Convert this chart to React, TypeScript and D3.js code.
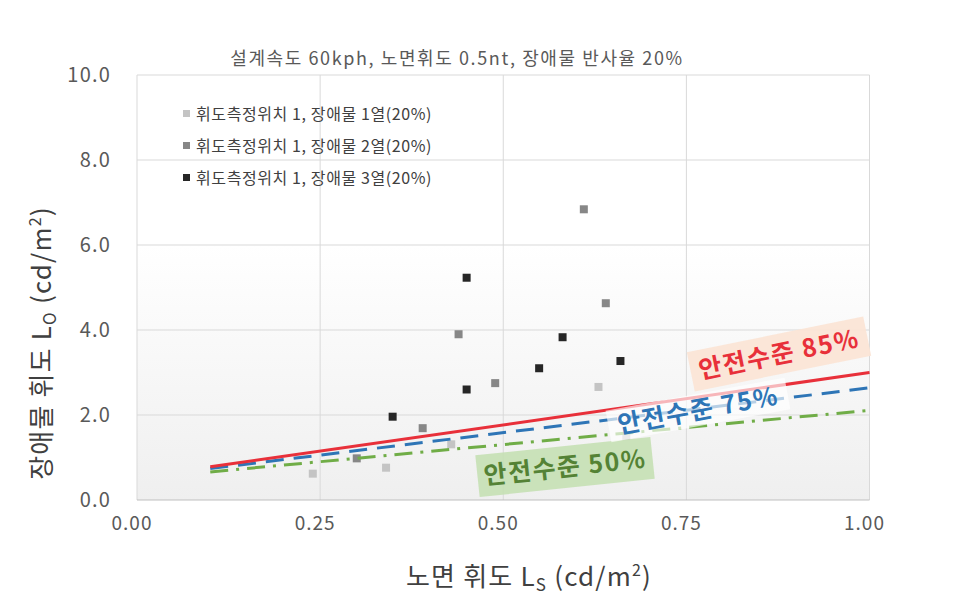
import React from "react";
import * as d3 from "d3";

const title = "설계속도 60kph, 노면휘도 0.5nt, 장애물 반사율 20%";
const xTicks = [0, 0.25, 0.5, 0.75, 1.0];
const yTicks = [0, 2, 4, 6, 8, 10];

const seriesNames = [
  "휘도측정위치 1, 장애물 1열(20%)",
  "휘도측정위치 1, 장애물 2열(20%)",
  "휘도측정위치 1, 장애물 3열(20%)",
];
const seriesColors = ["#c4c4c4", "#878787", "#262626"];

const s1x = [0.24, 0.34, 0.429, 0.63, 0.668];
const s1y = [0.62, 0.76, 1.31, 2.66, 1.5];
const s2x = [0.3, 0.39, 0.439, 0.489, 0.61, 0.64];
const s2y = [0.98, 1.69, 3.9, 2.75, 6.84, 4.63];
const s3x = [0.349, 0.45, 0.45, 0.549, 0.581, 0.66];
const s3y = [1.96, 5.23, 2.6, 3.1, 3.83, 3.27];

const lineX = [0.1, 1.0];
const line85 = [0.78, 3.0];
const line75 = [0.74, 2.64];
const line50 = [0.66, 2.11];

const FONT = "'Noto Sans CJK KR', 'Noto Sans', sans-serif";

export default function App() {
  const W = 972, H = 611;
  const x = d3.scaleLinear().domain([0, 1]).range([137, 869.5]);
  const y = d3.scaleLinear().domain([0, 10]).range([500, 75]);

  const series = [
    { xs: s1x, ys: s1y, color: seriesColors[0] },
    { xs: s2x, ys: s2y, color: seriesColors[1] },
    { xs: s3x, ys: s3y, color: seriesColors[2] },
  ];

  const lineGen = d3
    .line<[number, number]>()
    .x((d) => x(d[0]))
    .y((d) => y(d[1]));
  const mk = (vals: number[]) => lineGen(lineX.map((v, i) => [v, vals[i]] as [number, number])) || "";

  const ms = 8;

  const Label = ({
    cx, cy, angle, text, color, bg, bgOpacity, w, h, fs, ls,
  }: any) => (
    <g transform={`translate(${cx},${cy}) rotate(${angle})`}>
      <rect x={-w / 2} y={-h / 2} width={w} height={h} fill={bg} fillOpacity={bgOpacity} />
      <text
        x={0}
        y={fs * 0.36}
        textAnchor="middle"
        fontFamily={FONT}
        fontSize={fs}
        fontWeight={700}
        letterSpacing={ls}
        fill={color}
      >
        {text}
      </text>
    </g>
  );

  return (
    <svg
      width={W}
      height={H}
      style={{ position: "absolute", left: 0, top: 0, background: "#fff" }}
    >
      <defs>
        <linearGradient id="bgGrad" x1="0" y1="0" x2="0" y2="1">
          <stop offset="0%" stopColor="#ffffff" />
          <stop offset="40%" stopColor="#ffffff" />
          <stop offset="100%" stopColor="#efefef" />
        </linearGradient>
      </defs>

      <rect
        x={x(0)}
        y={y(10)}
        width={x(1) - x(0)}
        height={y(0) - y(10)}
        fill="url(#bgGrad)"
      />

      {/* gridlines */}
      {xTicks.map((t) => (
        <line key={"gx" + t} x1={x(t)} x2={x(t)} y1={y(0)} y2={y(10)} stroke="#d9d9d9" strokeWidth={1} />
      ))}
      {yTicks.map((t) => (
        <line key={"gy" + t} x1={x(0)} x2={x(1)} y1={y(t)} y2={y(t)} stroke={t === 0 ? "#bfbfbf" : "#d9d9d9"} strokeWidth={1} />
      ))}

      {/* tick labels */}
      {yTicks.map((t) => (
        <text key={"ty" + t} x={111} y={y(t) + 7} textAnchor="end" fontFamily={FONT} fontSize={20} letterSpacing={1.2} fill="#595959">
          {d3.format(".1f")(t)}
        </text>
      ))}
      {xTicks.map((t) => (
        <text key={"tx" + t} x={x(t) - 5} y={530} textAnchor="middle" fontFamily={FONT} fontSize={19} letterSpacing={1} fill="#595959">
          {d3.format(".2f")(t)}
        </text>
      ))}

      {/* title */}
      <text x={457} y={65} textAnchor="middle" fontFamily={FONT} fontSize={18} letterSpacing={1.6} fill="#595959">
        {title}
      </text>

      {/* axis titles */}
      <text
        transform={`translate(51,343) rotate(-90)`}
        textAnchor="middle"
        fontFamily={FONT}
        fontSize={26}
        letterSpacing={1.2}
        fill="#404040"
      >
        장애물 휘도 L
        <tspan fontSize={17} dy={5}>O</tspan>
        <tspan dy={-5}> (cd/m</tspan>
        <tspan fontSize={16} dy={-10}>2</tspan>
        <tspan dy={10}>)</tspan>
      </text>
      <text x={529} y={586} textAnchor="middle" fontFamily={FONT} fontSize={26} letterSpacing={1.2} fill="#404040">
        노면 휘도 L
        <tspan fontSize={17} dy={5}>S</tspan>
        <tspan dy={-5}> (cd/m</tspan>
        <tspan fontSize={16} dy={-10}>2</tspan>
        <tspan dy={10}>)</tspan>
      </text>

      {/* points */}
      {series.map((s, si) =>
        s.xs.map((xv, i) => (
          <rect
            key={`p${si}-${i}`}
            x={x(xv) - ms / 2}
            y={y(s.ys[i]) - ms / 2}
            width={ms}
            height={ms}
            fill={s.color}
          />
        ))
      )}

      {/* lines */}
      <path d={mk(line50)} fill="none" stroke="#70ad47" strokeWidth={3} strokeDasharray="18 8 3 8" />
      <path d={mk(line75)} fill="none" stroke="#2e75b6" strokeWidth={3} strokeDasharray="18 10" />
      <path d={mk(line85)} fill="none" stroke="#e8303a" strokeWidth={3} />

      {/* line labels */}
      <Label cx={565} cy={467} angle={-6} text="안전수준 50%" color="#548235" bg="#c5e0b4" bgOpacity={0.9} w={176} h={42} fs={25} ls={1.5} />
      <Label cx={698} cy={410} angle={-10.5} text="안전수준 75%" color="#2e75b6" bg="#ffffff" bgOpacity={0.65} w={182} h={32} fs={25} ls={1.5} />
      <Label cx={779} cy={354} angle={-11.5} text="안전수준 85%" color="#e8303a" bg="#fbe5d6" bgOpacity={0.95} w={180} h={40} fs={25} ls={1.5} />

      {/* legend */}
      {seriesNames.map((n, i) => (
        <g key={"lg" + i}>
          <rect x={183} y={110 + i * 32} width={7} height={7} fill={seriesColors[i]} />
          <text x={196} y={120 + i * 32} fontFamily={FONT} fontSize={16} letterSpacing={0.6} fill="#404040">
            {n}
          </text>
        </g>
      ))}
    </svg>
  );
}
